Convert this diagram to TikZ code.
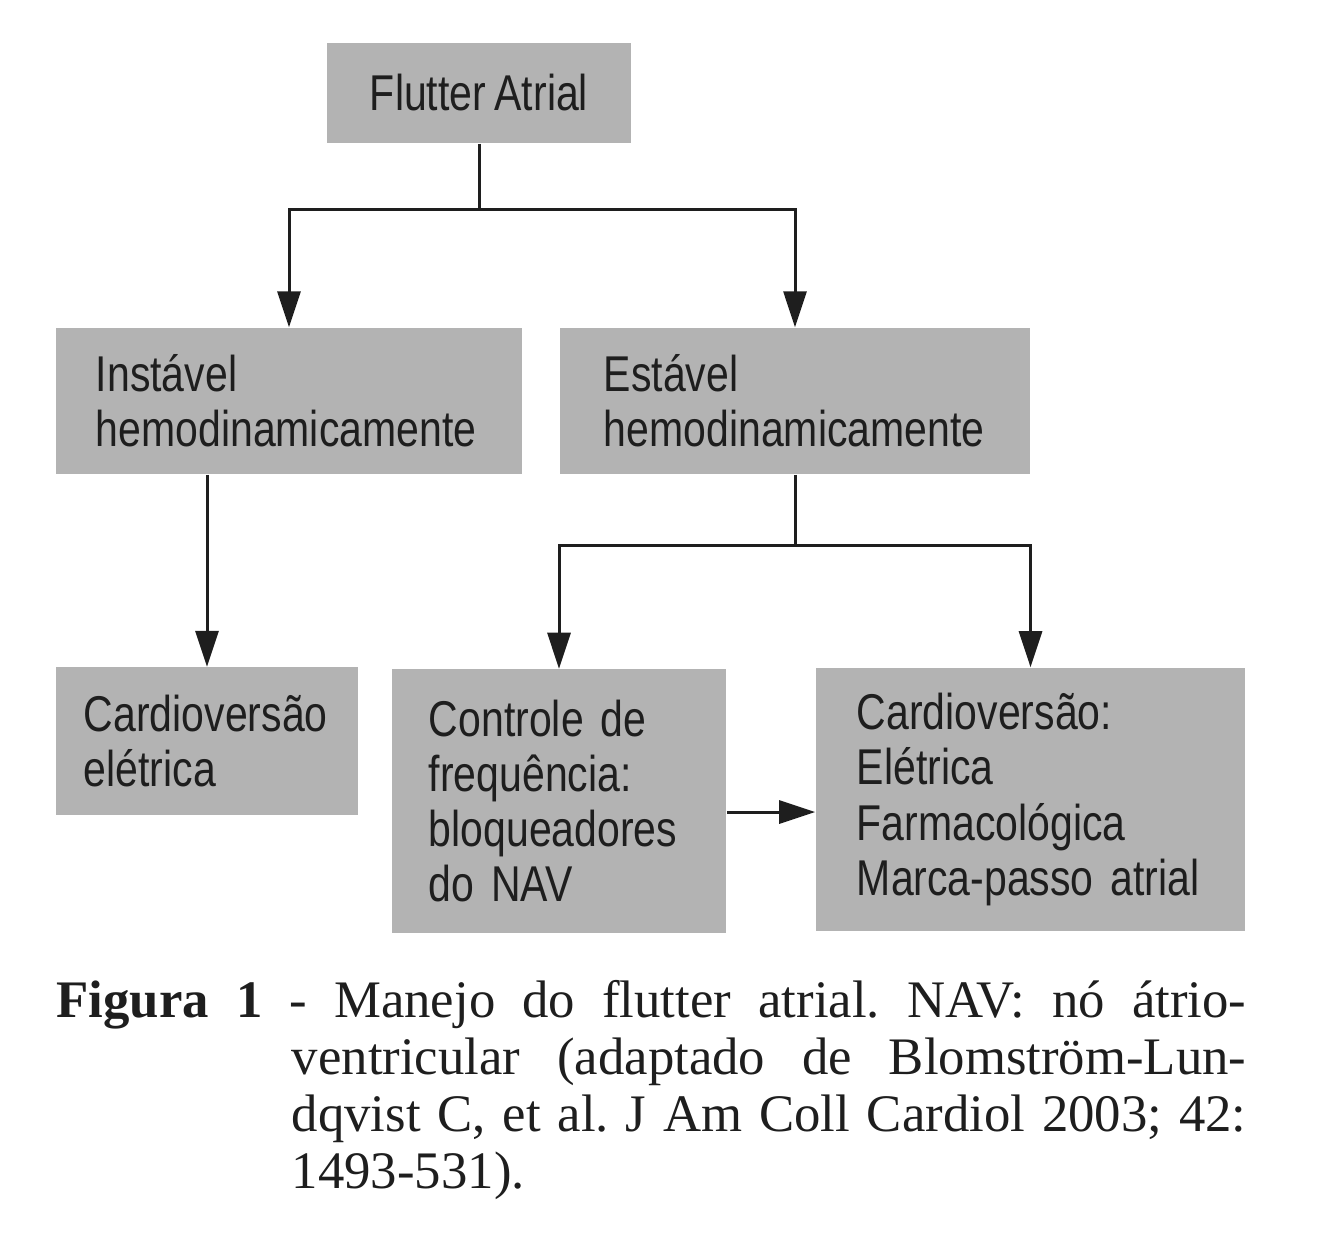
\documentclass[tikz,border=0pt]{standalone}
\usepackage{fontspec}
\setmainfont{Liberation Serif}
\newfontfamily\boxfont[FakeStretch=0.815, WordSpace=0.75]{Liberation Sans}
\usepackage{xcolor}
\definecolor{boxgray}{HTML}{B3B3B3}
\definecolor{inkdark}{HTML}{1E1E1E}
\usetikzlibrary{arrows.meta, positioning, calc}
\frenchspacing

\begin{document}
\begin{tikzpicture}[x=0.01cm, y=-0.01cm,
    >={Triangle[length=0.36cm, width=0.23cm]},
    gbox/.style={fill=boxgray, inner sep=0pt, align=left, text=inkdark,
      font=\boxfont\fontsize{14.3}{15.7}\selectfont},
    link/.style={draw=inkdark, line width=0.03cm}]

  \useasboundingbox (0,0) rectangle (1334,1250);

  % top level
  \node[gbox, align=center, minimum width=3.04cm, minimum height=1.00cm] (flutter)
    at (479,93) {Flutter~Atrial};

  % second level
  \node[gbox, minimum width=4.66cm, minimum height=1.46cm, text width=3.86cm] (instavel)
    at (289,401) {Instável\\hemodinamicamente};
  \node[gbox, minimum width=4.70cm, minimum height=1.46cm, text width=3.82cm] (estavel)
    at (795,401) {Estável\\hemodinamicamente};

  % third level
  \node[gbox, minimum width=3.02cm, minimum height=1.47cm, text width=2.46cm] (cardel)
    at (207,741) {Cardioversão\\elétrica};
  \node[gbox, minimum width=3.34cm, minimum height=2.63cm, text width=2.60cm] (controle)
    at (559,801) {Controle~de\\frequência:\\bloqueadores\\do~NAV};
  \node[gbox, minimum width=4.29cm, minimum height=2.63cm, text width=3.47cm] (cardio)
    at (1030.5,799.5) {Cardioversão:\\Elétrica\\Farmacológica\\Marca-passo~atrial};

  % connectors
  \coordinate (split1) at (479,209);
  \coordinate (split2) at (795,545);
  \coordinate (midrow) at (0,812);

  \draw[link] (flutter.south) -- (split1);
  \draw[link, ->] (split1) -| (instavel.north);
  \draw[link, ->] (split1) -| (estavel.north);

  \draw[link, ->] (instavel.south -| cardel.north) -- (cardel.north);

  \draw[link] (estavel.south) -- (split2);
  \draw[link, ->] (split2) -| (controle.north);
  \draw[link, ->] (split2) -| (cardio.north);

  \draw[link, ->] (controle.east |- midrow) -- (cardio.west |- midrow);

  % caption
  \node[anchor=north west, inner sep=0pt, text width=11.89cm, align=justify,
        text=inkdark, font=\fontsize{15}{16.2}\selectfont] (caption) at (56,980)
    {\hangindent=2.35cm \hangafter=1
     {\bfseries Figura 1} - Manejo do flutter atrial. NAV: nó átrio-\linebreak
     ventricular (adaptado de Blomström-Lun-\linebreak
     dqvist C, et al. J Am Coll Cardiol 2003; 42:\linebreak
     1493-531).\par};

\end{tikzpicture}
\end{document}
